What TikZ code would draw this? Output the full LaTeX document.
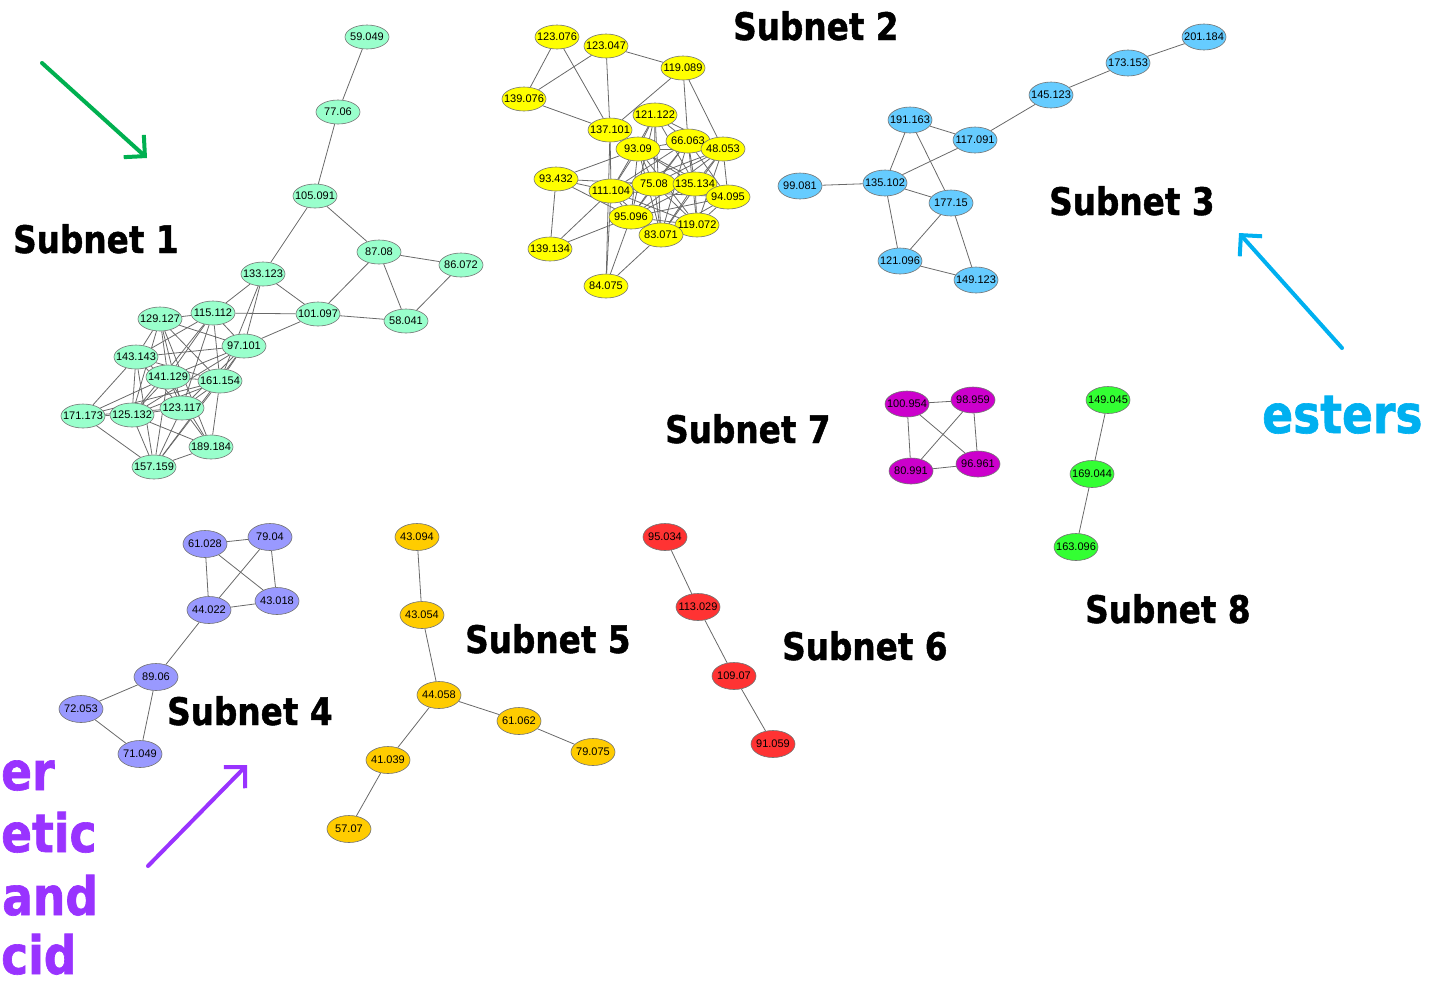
\documentclass[tikz,border=0pt]{standalone}
\usepackage{fontspec}
\usetikzlibrary{shapes.geometric,arrows.meta,backgrounds}
\newfontfamily\nodefont{Liberation Sans}
\newfontfamily\labfont[FakeStretch=0.86,FakeBold=1.2]{DejaVu Sans Bold}
\definecolor{cA}{RGB}{153,255,204}
\definecolor{cB}{RGB}{255,255,0}
\definecolor{cC}{RGB}{102,204,255}
\definecolor{cD}{RGB}{153,153,255}
\definecolor{cE}{RGB}{255,204,0}
\definecolor{cF}{RGB}{255,51,51}
\definecolor{cG}{RGB}{204,0,204}
\definecolor{cH}{RGB}{51,255,51}
\definecolor{edgegray}{RGB}{105,105,105}
\definecolor{agreen}{RGB}{0,176,80}
\definecolor{acyan}{RGB}{0,176,240}
\definecolor{apurple}{RGB}{153,51,255}
\newcommand\N[4]{\node[#1] (#2) at (#3) {\makebox[0pt]{#4}};}
\tikzset{
  nd/.style={ellipse, draw=black!55, line width=0.6pt, inner sep=0pt, minimum width=44pt, font=\nodefont\fontsize{11}{11}\selectfont},
  sA/.style={nd, fill=cA, minimum height=24pt},
  sB/.style={nd, fill=cB, minimum height=24pt},
  sC/.style={nd, fill=cC, minimum height=26pt},
  sD/.style={nd, fill=cD, minimum height=27pt},
  sE/.style={nd, fill=cE, minimum height=27pt},
  sF/.style={nd, fill=cF, minimum height=27pt},
  sG/.style={nd, fill=cG, minimum height=26pt},
  sH/.style={nd, fill=cH, minimum height=27pt},
  edge/.style={draw=edgegray, line width=0.8pt},
  sublabel/.style={anchor=base west, inner sep=0pt, font=\labfont\fontsize{38}{38}\selectfont},
  bigtext/.style={inner sep=0pt, font=\labfont\fontsize{53}{53}\selectfont},
  bigarrow/.style={line width=4pt, line cap=round, -{Straight Barb[length=15pt,width=30pt]}}
}
\begin{document}
\begin{tikzpicture}[x=1pt,y=-1pt]
\useasboundingbox (0,0) rectangle (1439,986);
% ---------------- Subnet 1
\N{sA}{a59049}{367,37}{59.049}
\N{sA}{a7706}{338,112}{77.06}
\N{sA}{a105091}{315,196}{105.091}
\N{sA}{a8708}{379,252}{87.08}
\N{sA}{a86072}{461,265}{86.072}
\N{sA}{a133123}{263,274}{133.123}
\N{sA}{a101097}{318,314}{101.097}
\N{sA}{a58041}{406,321}{58.041}
\N{sA}{a129127}{160,319}{129.127}
\N{sA}{a115112}{213,313}{115.112}
\N{sA}{a97101}{244,346}{97.101}
\N{sA}{a143143}{136,357}{143.143}
\N{sA}{a141129}{168,377}{141.129}
\N{sA}{a161154}{220,381}{161.154}
\N{sA}{a123117}{182,408}{123.117}
\N{sA}{a171173}{83,416}{171.173}
\N{sA}{a125132}{132,415}{125.132}
\N{sA}{a189184}{211,447}{189.184}
\N{sA}{a157159}{154,467}{157.159}
% ---------------- Subnet 2
\N{sB}{y123076}{557,37}{123.076}
\N{sB}{y123047}{606,46}{123.047}
\N{sB}{y119089}{683,68}{119.089}
\N{sB}{y139076}{524,99}{139.076}
\N{sB}{y121122}{655,115}{121.122}
\N{sB}{y137101}{610,130}{137.101}
\N{sB}{y93090}{638,149}{93.09}
\N{sB}{y66063}{688,141}{66.063}
\N{sB}{y48053}{723,149}{48.053}
\N{sB}{y93432}{556,179}{93.432}
\N{sB}{y111104}{611,191}{111.104}
\N{sB}{y75080}{654,184}{75.08}
\N{sB}{y135134}{695,184}{135.134}
\N{sB}{y94095}{728,197}{94.095}
\N{sB}{y95096}{631,217}{95.096}
\N{sB}{y119072}{697,225}{119.072}
\N{sB}{y83071}{661,235}{83.071}
\N{sB}{y139134}{550,249}{139.134}
\N{sB}{y84075}{606,286}{84.075}
% ---------------- Subnet 3
\N{sC}{b201184}{1204,37}{201.184}
\N{sC}{b173153}{1128,63}{173.153}
\N{sC}{b145123}{1051,95}{145.123}
\N{sC}{b191163}{910,120}{191.163}
\N{sC}{b117091}{975,140}{117.091}
\N{sC}{b99081}{800,186}{99.081}
\N{sC}{b135102}{885,183}{135.102}
\N{sC}{b17715}{951,203}{177.15}
\N{sC}{b121096}{900,261}{121.096}
\N{sC}{b149123}{976,280}{149.123}
% ---------------- Subnet 4
\N{sD}{d61028}{205,544}{61.028}
\N{sD}{d7904}{270,537}{79.04}
\N{sD}{d43018}{277,601}{43.018}
\N{sD}{d44022}{209,610}{44.022}
\N{sD}{d8906}{156,677}{89.06}
\N{sD}{d72053}{81,709}{72.053}
\N{sD}{d71049}{140,754}{71.049}
% ---------------- Subnet 5
\N{sE}{e43094}{417,537}{43.094}
\N{sE}{e43054}{422,615}{43.054}
\N{sE}{e44058}{439,695}{44.058}
\N{sE}{e61062}{519,721}{61.062}
\N{sE}{e79075}{593,752}{79.075}
\N{sE}{e41039}{388,760}{41.039}
\N{sE}{e5707}{349,829}{57.07}
% ---------------- Subnet 6
\N{sF}{f95034}{665,537}{95.034}
\N{sF}{f113029}{698,607}{113.029}
\N{sF}{f10907}{734,676}{109.07}
\N{sF}{f91059}{773,744}{91.059}
% ---------------- Subnet 7
\N{sG}{g100954}{907,404}{100.954}
\N{sG}{g98959}{973,400}{98.959}
\N{sG}{g80991}{911,471}{80.991}
\N{sG}{g96961}{978,464}{96.961}
% ---------------- Subnet 8
\N{sH}{h149045}{1108,400}{149.045}
\N{sH}{h169044}{1092,474}{169.044}
\N{sH}{h163096}{1076,547}{163.096}
% ---------------- edges
\begin{scope}[on background layer]
\foreach \p/\q in {a59049/a7706, a7706/a105091, a105091/a133123, a105091/a8708, a8708/a86072, a8708/a58041, a86072/a58041, a101097/a58041, a101097/a8708,
  a133123/a101097, a133123/a115112, a133123/a97101, a133123/a161154, a115112/a129127, a115112/a101097, a97101/a101097,
  a129127/a143143, a129127/a141129, a129127/a125132, a129127/a123117, a129127/a97101, a129127/a161154, a129127/a189184,
  a115112/a143143, a115112/a141129, a115112/a161154, a115112/a125132, a115112/a123117, a115112/a97101,
  a97101/a143143, a97101/a141129, a97101/a161154, a97101/a125132, a97101/a123117, a97101/a157159,
  a143143/a171173, a143143/a125132, a143143/a141129, a143143/a123117, a143143/a157159, a143143/a161154,
  a141129/a161154, a141129/a171173, a141129/a125132, a141129/a123117, a141129/a189184, a141129/a157159,
  a161154/a123117, a161154/a125132, a161154/a189184, a161154/a157159, a161154/a171173,
  a123117/a125132, a123117/a171173, a123117/a189184, a123117/a157159,
  a125132/a171173, a125132/a157159, a125132/a189184, a171173/a157159, a189184/a157159}
  \draw[edge] (\p) -- (\q);
\foreach \p/\q in {y123076/y139076, y123076/y137101, y123047/y139076, y123047/y137101, y123047/y119089, y139076/y137101, y119089/y137101, y119089/y66063, y119089/y48053, y137101/y84075, y137101/y93090, y137101/y111104,
  y93432/y93090, y93432/y111104, y93432/y139134, y93432/y75080, y93432/y95096,
  y139134/y111104, y139134/y95096, y84075/y95096, y84075/y83071, y84075/y111104,
  y121122/y93090, y121122/y66063, y121122/y48053, y121122/y75080, y121122/y135134, y121122/y111104, y121122/y95096, y121122/y83071,
  y93090/y66063, y93090/y75080, y93090/y135134, y93090/y48053, y93090/y111104, y93090/y95096, y93090/y83071, y93090/y119072, y93090/y94095,
  y66063/y48053, y66063/y75080, y66063/y135134, y66063/y94095, y66063/y111104, y66063/y95096, y66063/y83071, y66063/y119072,
  y48053/y135134, y48053/y94095, y48053/y75080, y48053/y119072, y48053/y83071, y48053/y95096, y48053/y111104,
  y111104/y75080, y111104/y95096, y111104/y83071, y111104/y119072, y111104/y135134, y111104/y94095,
  y75080/y135134, y75080/y95096, y75080/y83071, y75080/y119072, y75080/y94095,
  y135134/y94095, y135134/y119072, y135134/y83071, y135134/y95096,
  y94095/y119072, y94095/y83071, y94095/y95096, y95096/y83071, y95096/y119072, y83071/y119072}
  \draw[edge] (\p) -- (\q);
\foreach \p/\q in {b201184/b173153, b173153/b145123, b145123/b117091, b191163/b117091, b191163/b135102, b191163/b17715, b117091/b135102, b99081/b135102, b135102/b17715, b135102/b121096, b17715/b121096, b17715/b149123, b121096/b149123,
  d61028/d7904, d61028/d44022, d61028/d43018, d7904/d44022, d7904/d43018, d44022/d43018, d44022/d8906, d8906/d72053, d8906/d71049, d72053/d71049,
  e43094/e43054, e43054/e44058, e44058/e61062, e61062/e79075, e44058/e41039, e41039/e5707,
  f95034/f113029, f113029/f10907, f10907/f91059,
  g100954/g98959, g100954/g80991, g100954/g96961, g98959/g80991, g98959/g96961, g80991/g96961,
  h149045/h169044, h169044/h163096}
  \draw[edge] (\p) -- (\q);
\end{scope}
% ---------------- subnet labels
\node[sublabel] (L1) at (13,253) {Subnet 1};
\node[sublabel] (L2) at (733,40) {Subnet 2};
\node[sublabel] (L3) at (1049,215) {Subnet 3};
\node[sublabel] (L4) at (167,725) {Subnet 4};
\node[sublabel] (L5) at (465,653) {Subnet 5};
\node[sublabel] (L6) at (782,660) {Subnet 6};
\node[sublabel] (L7) at (665,443) {Subnet 7};
\node[sublabel] (L8) at (1085,623) {Subnet 8};
% ---------------- annotation text
\node[bigtext, anchor=base west, text=acyan] (est) at (1262,433) {esters};
\node[bigtext, anchor=base west, text=apurple] (p1) at (1,790) {er};
\node[bigtext, anchor=base west, text=apurple] (p2) at (1,852) {etic};
\node[bigtext, anchor=base west, text=apurple] (p3) at (2,915) {and};
\node[bigtext, anchor=base west, text=apurple] (p4) at (1,974) {cid};
% ---------------- arrows
\coordinate (g0) at (42,63);
\coordinate (g1) at (147,158);
\coordinate (c0) at (1342,348);
\coordinate (c1) at (1239,233);
\coordinate (v0) at (148,866);
\coordinate (v1) at (247,765);
\draw[bigarrow, agreen] (g0) -- (g1);
\draw[bigarrow, acyan] (c0) -- (c1);
\draw[bigarrow, apurple] (v0) -- (v1);
\end{tikzpicture}
\end{document}
